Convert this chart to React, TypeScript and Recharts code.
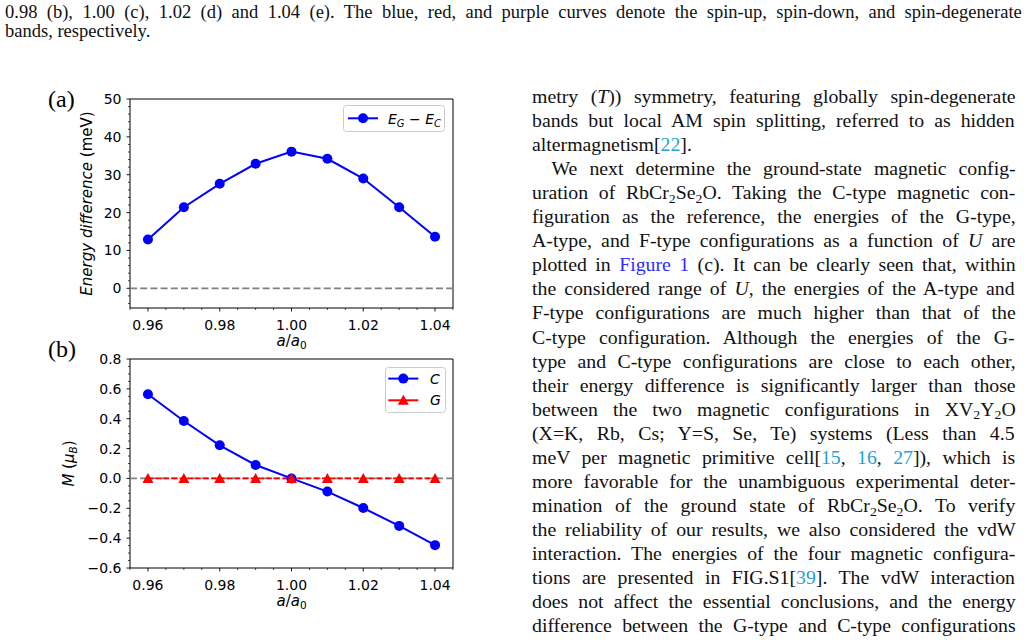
import React from "react";
import { LineChart, Line, XAxis, YAxis, ReferenceLine, ReferenceArea, Legend } from "recharts";

// a/a0 lattice ratio
const latticeRatio = [0.96, 0.97, 0.98, 0.99, 1.0, 1.01, 1.02, 1.03, 1.04];
// E_G - E_C (meV)
const energyGC = [12.9, 21.4, 27.6, 32.9, 36.1, 34.2, 29.0, 21.4, 13.6];
// magnetic moment M (mu_B) for C-type and G-type
const momentC = [0.564, 0.385, 0.222, 0.09, 0.0, -0.088, -0.198, -0.318, -0.447];
const momentG = [0, 0, 0, 0, 0, 0, 0, 0, 0];

const xTicks = [0.96, 0.98, 1.0, 1.02, 1.04];
const xMinorTicks = [0.955, 0.965, 0.97, 0.975, 0.985, 0.99, 0.995, 1.005, 1.01, 1.015, 1.025, 1.03, 1.035, 1.045];
const energyTicks = [0, 10, 20, 30, 40, 50];
const energyMinorTicks = [-4, -2, 2, 4, 6, 8, 12, 14, 16, 18, 22, 24, 26, 28, 32, 34, 36, 38, 42, 44, 46, 48];
const momentTicks = [-0.6, -0.4, -0.2, 0, 0.2, 0.4, 0.6, 0.8];
const momentMinorTicks = [
  -0.55, -0.5, -0.45, -0.35, -0.3, -0.25, -0.15, -0.1, -0.05, 0.05, 0.1, 0.15, 0.25, 0.3, 0.35, 0.45, 0.5, 0.55,
  0.65, 0.7, 0.75,
];

const energyData = latticeRatio.map((r, i) => ({ r, e: energyGC[i] }));
const momentData = latticeRatio.map((r, i) => ({ r, c: momentC[i], g: momentG[i] }));

const allX = [...xTicks, ...xMinorTicks].sort((a, b) => a - b);
const allEnergy = [...energyTicks, ...energyMinorTicks].sort((a, b) => a - b);
const allMoment = [...momentTicks, ...momentMinorTicks].sort((a, b) => a - b);

const FONT = "'DejaVu Sans', sans-serif";
const SERIF = "'Liberation Serif', 'Times New Roman', serif";
const BLUE = "#0000ff";
const RED = "#ff0000";

const isMajor = (v: number, majors: number[]) => majors.some((m) => Math.abs(m - v) < 1e-9);
const minus = (v: number, d: number) => (v < -1e-12 ? "\u2212" : "") + Math.abs(v).toFixed(d);

function xTick(props: any) {
  const { x, y, payload } = props;
  const major = isMajor(payload.value, xTicks);
  return (
    <g>
      <line x1={x} x2={x} y1={y} y2={y + (major ? 3.5 : 2)} stroke="#000" strokeWidth={major ? 0.9 : 0.7} />
      {major && (
        <text x={x} y={y + 22} textAnchor="middle" fontSize={14} fontFamily={FONT} fill="#000">
          {payload.value.toFixed(2)}
        </text>
      )}
    </g>
  );
}

function yTick(majors: number[], digits: number) {
  return (props: any) => {
    const { x, y, payload } = props;
    const major = isMajor(payload.value, majors);
    return (
      <g>
        <line x1={x} x2={x - (major ? 3.5 : 2)} y1={y} y2={y} stroke="#000" strokeWidth={major ? 0.9 : 0.7} />
        {major && (
          <text x={x - 8.5} y={y} dy="0.36em" textAnchor="end" fontSize={14} fontFamily={FONT} fill="#000">
            {minus(payload.value, digits)}
          </text>
        )}
      </g>
    );
  };
}

function xLabel(props: any) {
  const vb = props.viewBox || { x: 130, y: 228, width: 323 };
  const cx = vb.x + vb.width / 2;
  return (
    <text x={cx} y={vb.y + 38} textAnchor="middle" fontSize={15} fontFamily={FONT} fill="#000">
      <tspan fontStyle="italic">a</tspan>
      <tspan>/</tspan>
      <tspan fontStyle="italic">a</tspan>
      <tspan fontSize={10.5} dy={3}>0</tspan>
    </text>
  );
}

function yLabelEnergy(props: any) {
  const vb = props.viewBox || { x: 70, y: 19, width: 60, height: 209 };
  const cx = vb.x + vb.width - 43;
  const cy = vb.y + vb.height / 2;
  return (
    <text
      x={cx}
      y={cy}
      transform={`rotate(-90 ${cx} ${cy})`}
      textAnchor="middle"
      dominantBaseline="central"
      fontSize={15}
      fontFamily={FONT}
      fill="#000"
    >
      <tspan fontStyle="italic">Energy difference</tspan>
      <tspan> (meV)</tspan>
    </text>
  );
}

function yLabelMoment(props: any) {
  const vb = props.viewBox || { x: 70, y: 19, width: 60, height: 209 };
  const cx = vb.x + vb.width - 61;
  const cy = vb.y + vb.height / 2;
  return (
    <g transform={`rotate(-90 ${cx} ${cy})`}>
      <text x={cx} y={cy + 5} textAnchor="middle" fontSize={15} fontFamily={FONT} fill="#000">
        <tspan fontStyle="italic">M</tspan>
        <tspan> (</tspan>
        <tspan fontStyle="italic">μ</tspan>
        <tspan fontStyle="italic" fontSize={10.5} dy={3}>B</tspan>
        <tspan dy={-3}>)</tspan>
      </text>
    </g>
  );
}

function triangle(props: any) {
  const { cx, cy, index } = props;
  if (cx == null || cy == null) return <g key={`t-${index}`} />;
  return (
    <polygon key={`t-${index}`} points={`${cx},${cy - 5.5} ${cx - 5.5},${cy + 4.5} ${cx + 5.5},${cy + 4.5}`} fill={RED} />
  );
}

function LegendA() {
  return (
    <svg width={103} height={28} style={{ display: "block", overflow: "visible" }}>
      <rect x={0.5} y={0.5} width={101} height={26} rx={3} fill="#fff" fillOpacity={0.8} stroke="#cccccc" />
      <line x1={5} x2={35} y1={13.3} y2={13.3} stroke={BLUE} strokeWidth={2} />
      <circle cx={20} cy={13.3} r={5} fill={BLUE} />
      <text x={45} y={18.5} fontSize={14} fontFamily={FONT} fill="#000">
        <tspan fontStyle="italic">E</tspan>
        <tspan fontStyle="italic" fontSize={10} dy={3}>G</tspan>
        <tspan dy={-3}> − </tspan>
        <tspan fontStyle="italic">E</tspan>
        <tspan fontStyle="italic" fontSize={10} dy={3}>C</tspan>
      </text>
    </svg>
  );
}

function LegendB() {
  return (
    <svg width={62} height={47} style={{ display: "block", overflow: "visible" }}>
      <rect x={0.5} y={0.5} width={60} height={45} rx={3} fill="#fff" fillOpacity={0.8} stroke="#cccccc" />
      <line x1={3.3} x2={33.3} y1={11.6} y2={11.6} stroke={BLUE} strokeWidth={2} />
      <circle cx={18.3} cy={11.6} r={5} fill={BLUE} />
      <text x={45} y={16.6} fontSize={14} fontFamily={FONT} fontStyle="italic" fill="#000">
        C
      </text>
      <line x1={3.3} x2={33.3} y1={33.3} y2={33.3} stroke={RED} strokeWidth={2} />
      <polygon points={`18.3,27.8 12.8,37.8 23.8,37.8`} fill={RED} />
      <text x={45} y={38.3} fontSize={14} fontFamily={FONT} fontStyle="italic" fill="#000">
        G
      </text>
    </svg>
  );
}

// page text ---------------------------------------------------------------

type Seg = string | { t: string; i?: boolean; sub?: boolean; c?: string };
const CITE = "#1f9fde";
const FIG = "#2b2bff";

const captionLines: Seg[][] = [
  ["0.98 (b), 1.00 (c), 1.02 (d) and 1.04 (e). The blue, red, and purple curves denote the spin-up, spin-down, and spin-degenerate"],
  ["bands, respectively."],
];

const bodyLines: Seg[][] = [
  ["metry (", { t: "T", i: true }, ")) symmetry, featuring globally spin-degenerate"],
  ["bands but local AM spin splitting, referred to as hidden"],
  ["altermagnetism[", { t: "22", c: CITE }, "]."],
  ["We next determine the ground-state magnetic config-"],
  ["uration of RbCr", { t: "2", sub: true }, "Se", { t: "2", sub: true }, "O. Taking the C-type magnetic con-"],
  ["figuration as the reference, the energies of the G-type,"],
  ["A-type, and F-type configurations as a function of ", { t: "U", i: true }, " are"],
  ["plotted in ", { t: "Figure 1", c: FIG }, " (c). It can be clearly seen that, within"],
  ["the considered range of ", { t: "U", i: true }, ", the energies of the A-type and"],
  ["F-type configurations are much higher than that of the"],
  ["C-type configuration. Although the energies of the G-"],
  ["type and C-type configurations are close to each other,"],
  ["their energy difference is significantly larger than those"],
  ["between the two magnetic configurations in XV", { t: "2", sub: true }, "Y", { t: "2", sub: true }, "O"],
  ["(X=K, Rb, Cs; Y=S, Se, Te) systems (Less than 4.5"],
  ["meV per magnetic primitive cell[", { t: "15", c: CITE }, ", ", { t: "16", c: CITE }, ", ", { t: "27", c: CITE }, "]), which is"],
  ["more favorable for the unambiguous experimental deter-"],
  ["mination of the ground state of RbCr", { t: "2", sub: true }, "Se", { t: "2", sub: true }, "O. To verify"],
  ["the reliability of our results, we also considered the vdW"],
  ["interaction. The energies of the four magnetic configura-"],
  ["tions are presented in FIG.S1[", { t: "39", c: CITE }, "]. The vdW interaction"],
  ["does not affect the essential conclusions, and the energy"],
  ["difference between the G-type and C-type configurations"],
];

let measureCtx: CanvasRenderingContext2D | null = null;
function segWidth(s: Seg, size: number) {
  if (!measureCtx) measureCtx = document.createElement("canvas").getContext("2d");
  const seg = typeof s === "string" ? { t: s } : s;
  if (!measureCtx) return seg.t.length * size * 0.45;
  const fs = seg.sub ? size * 0.7 : size;
  measureCtx.font = `${seg.i ? "italic " : ""}${fs}px "Liberation Serif"`;
  return measureCtx.measureText(seg.t).width;
}

// justified line: glyphs widened up to maxScale, the rest goes into the spaces
function TextLine({
  segs,
  x,
  y,
  size,
  width,
  maxScale = 1,
}: {
  segs: Seg[];
  x: number;
  y: number;
  size: number;
  width?: number;
  maxScale?: number;
}) {
  let spacing = 0;
  let k = maxScale;
  if (width) {
    const natural = segs.reduce((a, s) => a + segWidth(s, size), 0);
    const spaces = segs.reduce((a, s) => a + ((typeof s === "string" ? s : s.t).match(/ /g) || []).length, 0);
    k = Math.max(0.85, Math.min(maxScale, width / natural));
    if (spaces > 0) spacing = (width - k * natural) / (k * spaces);
  }
  return (
    <text
      transform={`translate(${x} ${y}) scale(${k} 1)`}
      x={0}
      y={0}
      fontSize={size}
      fontFamily={SERIF}
      fill="#111"
      style={{ wordSpacing: `${spacing}px`, whiteSpace: "pre" }}
    >
      {segs.map((s, n) => {
        if (typeof s === "string") return <tspan key={n}>{s}</tspan>;
        return (
          <tspan
            key={n}
            fontStyle={s.i ? "italic" : undefined}
            fill={s.c}
            fontSize={s.sub ? size * 0.7 : undefined}
            baselineShift={s.sub ? "-4" : undefined}
          >
            {s.t}
          </tspan>
        );
      })}
    </text>
  );
}

function PageText() {
  const left = 532;
  const right = 1016;
  return (
    <svg width={1028} height={641} style={{ position: "absolute", left: 0, top: 0 }}>
      <TextLine segs={captionLines[0]} x={5} y={17.5} size={19.5} width={1018} maxScale={0.95} />
      <TextLine segs={captionLines[1]} x={5} y={37} size={19.5} maxScale={0.95} />
      <text x={48} y={107} fontSize={24} fontFamily={SERIF} fill="#000">
        (a)
      </text>
      <text x={48} y={357} fontSize={24} fontFamily={SERIF} fill="#000">
        (b)
      </text>
      {bodyLines.map((segs, n) => {
        const y = 103 + n * 24.05;
        if (n === 2) return <TextLine key={n} segs={segs} x={left} y={y} size={18} maxScale={1.1} />;
        const x = n === 3 ? 551.5 : left;
        return <TextLine key={n} segs={segs} x={x} y={y} size={18} width={right - x} maxScale={1.1} />;
      })}
    </svg>
  );
}

export default function App() {
  return (
    <div style={{ position: "absolute", left: 0, top: 0, width: 1028, height: 641, background: "#fff", overflow: "hidden" }}>
      <PageText />
      <div style={{ position: "absolute", left: 0, top: 80 }}>
        <LineChart width={470} height={280} data={energyData} margin={{ top: 19, right: 17, bottom: 12, left: 70 }}>
          <XAxis
            dataKey="r"
            type="number"
            domain={[0.955, 1.045]}
            allowDataOverflow
            ticks={allX}
            interval={0}
            tickSize={0}
            tickMargin={0}
            axisLine={false}
            tickLine={false}
            tick={xTick}
            height={40}
            label={{ content: xLabel }}
          />
          <YAxis
            type="number"
            domain={[-5.2, 50]}
            allowDataOverflow
            ticks={allEnergy}
            interval={0}
            tickSize={0}
            tickMargin={0}
            axisLine={false}
            tickLine={false}
            tick={yTick(energyTicks, 0)}
            width={60}
            label={{ content: yLabelEnergy }}
          />
          <ReferenceArea x1={0.955} x2={1.045} y1={-5.2} y2={50} fill="none" stroke="#000" strokeWidth={1} ifOverflow="visible" />
          <ReferenceLine y={0} stroke="#808080" strokeWidth={1.8} strokeDasharray="7 3.2" />
          <Line
            dataKey="e"
            type="linear"
            stroke={BLUE}
            strokeWidth={2}
            dot={{ r: 5, fill: BLUE, stroke: BLUE, strokeWidth: 0 }}
            activeDot={false}
            isAnimationActive={false}
          />
          <Legend
            layout="vertical"
            align="right"
            verticalAlign="top"
            wrapperStyle={{ left: 343, top: 25, width: 0, height: 0, overflow: "visible" }}
            content={() => <LegendA />}
          />
        </LineChart>
      </div>
      <div style={{ position: "absolute", left: 0, top: 340 }}>
        <LineChart width={470} height={280} data={momentData} margin={{ top: 19, right: 17, bottom: 12, left: 70 }}>
          <XAxis
            dataKey="r"
            type="number"
            domain={[0.955, 1.045]}
            allowDataOverflow
            ticks={allX}
            interval={0}
            tickSize={0}
            tickMargin={0}
            axisLine={false}
            tickLine={false}
            tick={xTick}
            height={40}
            label={{ content: xLabel }}
          />
          <YAxis
            type="number"
            domain={[-0.6, 0.8]}
            allowDataOverflow
            ticks={allMoment}
            interval={0}
            tickSize={0}
            tickMargin={0}
            axisLine={false}
            tickLine={false}
            tick={yTick(momentTicks, 1)}
            width={60}
            label={{ content: yLabelMoment }}
          />
          <ReferenceArea x1={0.955} x2={1.045} y1={-0.6} y2={0.8} fill="none" stroke="#000" strokeWidth={1} ifOverflow="visible" />
          <ReferenceLine y={0} stroke="#808080" strokeWidth={1.8} strokeDasharray="7 3.2" />
          <Line
            dataKey="c"
            type="linear"
            stroke={BLUE}
            strokeWidth={2}
            dot={{ r: 5, fill: BLUE, stroke: BLUE, strokeWidth: 0 }}
            activeDot={false}
            isAnimationActive={false}
          />
          <Line
            dataKey="g"
            type="linear"
            stroke={RED}
            strokeWidth={1.8}
            strokeDasharray="5.5 2.4"
            dot={triangle}
            activeDot={false}
            isAnimationActive={false}
          />
          <Legend
            layout="vertical"
            align="right"
            verticalAlign="top"
            wrapperStyle={{ left: 385, top: 26.7, width: 0, height: 0, overflow: "visible" }}
            content={() => <LegendB />}
          />
        </LineChart>
      </div>
    </div>
  );
}
